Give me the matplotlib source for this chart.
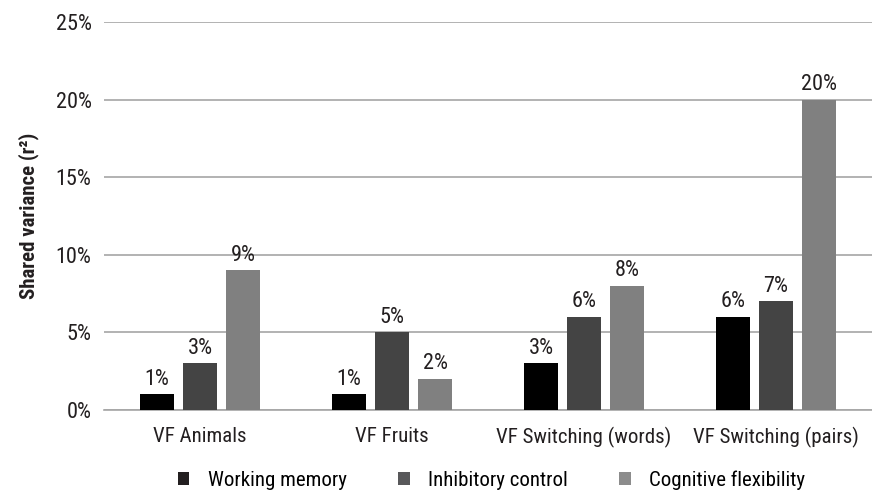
import matplotlib
matplotlib.use("Agg")
import matplotlib.pyplot as plt
import numpy as np
from matplotlib.ticker import FuncFormatter
from matplotlib.patches import Patch

categories = ["VF Animals", "VF Fruits", "VF Switching (words)", "VF Switching (pairs)"]
series_names = ["Working memory", "Inhibitory control", "Cognitive flexibility"]
working_memory = [1, 1, 3, 6]
inhibitory_control = [3, 5, 6, 7]
cognitive_flexibility = [9, 2, 8, 20]
y_ticks = [0, 5, 10, 15, 20, 25]

colors = ["#000000", "#444444", "#808080"]
legend_colors = ["#231f20", "#58585a", "#8c8c8c"]

plt.rcParams['font.family'] = ['Roboto Condensed', 'Archivo Narrow', 'PT Sans Narrow',
                               'IBM Plex Sans Condensed', 'Liberation Sans', 'DejaVu Sans']

fig = plt.figure(figsize=(8.72, 4.92), dpi=100)
ax = fig.add_axes([104/872, 1-410/492, 1-104/872, (410-22)/492])

x = np.arange(len(categories))
width = 0.177
offset = 0.224
series = [working_memory, inhibitory_control, cognitive_flexibility]
for i, (vals, c) in enumerate(zip(series, colors)):
    xs = x + (i-1)*offset
    ax.bar(xs, vals, width=width, color=c, zorder=3)
    for xi, v in zip(xs, vals):
        ax.text(xi, v + 0.3, f"{v}%", ha='center', va='bottom', fontsize=16, color='#231f20')

ax.set_xlim(-0.5, 3.5)
ax.set_ylim(0, 25)
ax.set_yticks(y_ticks)
ax.yaxis.set_major_formatter(FuncFormatter(lambda v, p: f"{int(v)}%"))
ax.grid(axis='y', color='#a6a6a6', linewidth=1.2, zorder=0)
for s in ['top', 'right', 'left']:
    ax.spines[s].set_visible(False)
ax.spines['bottom'].set_color('#a6a6a6')
ax.spines['bottom'].set_linewidth(1.2)
ax.set_xticks(x)
ax.set_xticklabels(categories)
ax.tick_params(axis='y', length=0, labelsize=16, colors='#231f20', pad=9)
ax.tick_params(axis='x', length=0, labelsize=15, colors='#231f20', pad=12)
ax.set_ylabel("Shared variance (r²)", fontsize=15, fontweight='bold', color='#231f20', labelpad=12)

handles = [Patch(facecolor=c, edgecolor='none') for c in legend_colors]
fig.legend(handles, series_names, loc='center', bbox_to_anchor=(0.564, 1 - 480/492), ncol=3,
           frameon=False, fontsize=15, handlelength=0.55, handleheight=0.55, columnspacing=2.45,
           handletextpad=0.9, borderpad=0.0, borderaxespad=0.0)

fig.savefig("out.png", dpi=100)
